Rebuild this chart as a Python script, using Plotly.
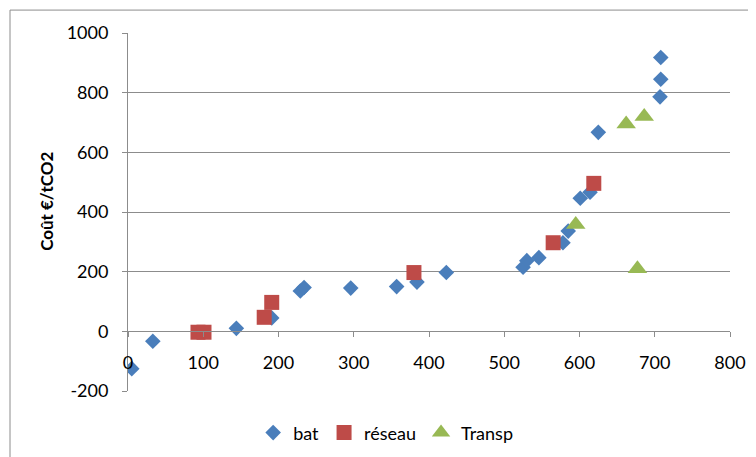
import plotly.graph_objects as go

# values
bat_x = [5, 33, 144, 191, 229, 234, 296, 357, 384, 423, 525, 530, 546, 578, 585, 601, 614, 625, 707, 708, 708]
bat_y = [-125, -33, 10, 45, 135, 147, 145, 150, 165, 197, 215, 237, 247, 297, 336, 446, 466, 667, 786, 845, 918]

reseau_x = [93, 101, 181, 191, 380, 565, 619]
reseau_y = [-3, -3, 47, 97, 197, 297, 496]

transp_x = [595, 662, 686, 677]
transp_y = [358, 695, 720, 210]

x_ticks = [0, 100, 200, 300, 400, 500, 600, 700, 800]
y_ticks = [-200, 0, 200, 400, 600, 800, 1000]
y_tick_labels = ["-200", "0", "200", "400", "600", "800", "1000"]

font_family = "Lato, 'Open Sans', sans-serif"
grid_color = "#8c8c8c"

fig = go.Figure()

fig.add_trace(
    go.Scatter(
        x=bat_x,
        y=bat_y,
        name="bat",
        mode="markers",
        marker={"symbol": "diamond", "size": 12, "color": "#4a7ebb"},
    )
)
fig.add_trace(
    go.Scatter(
        x=reseau_x,
        y=reseau_y,
        name="réseau",
        mode="markers",
        marker={"symbol": "square", "size": 15, "color": "#be4b48"},
    )
)
fig.add_trace(
    go.Scatter(
        x=transp_x,
        y=transp_y,
        name="Transp",
        mode="markers",
        marker={"symbol": "triangle-up", "size": 17, "color": "#98b954"},
    )
)

fig.update_xaxes(
    range=[0, 800],
    tickvals=x_ticks,
    showgrid=False,
    zeroline=False,
    showline=True,
    linecolor=grid_color,
    linewidth=1,
    ticks="outside",
    ticklen=5,
    tickcolor=grid_color,
    anchor="free",
    position=200 / 1200,
    ticklabelstandoff=10,
    tickfont={"size": 18, "color": "#000000", "family": font_family},
)
fig.update_yaxes(
    range=[-200, 1000],
    tickvals=y_ticks,
    ticktext=y_tick_labels,
    showgrid=True,
    gridcolor=grid_color,
    gridwidth=1,
    zeroline=False,
    showline=True,
    linecolor=grid_color,
    linewidth=1,
    ticks="outside",
    ticklen=5,
    tickcolor=grid_color,
    ticklabelstandoff=10,
    tickfont={"size": 18, "color": "#000000", "family": font_family},
)

# y axis title, placed like the spreadsheet one
fig.add_annotation(
    text="<b>Coût €/tCO2</b>",
    textangle=-90,
    xref="paper",
    yref="paper",
    x=-0.1346,
    y=0.531,
    xanchor="center",
    yanchor="middle",
    showarrow=False,
    font={"size": 17, "color": "#000000", "family": font_family},
)

# chart border like the spreadsheet frame
fig.add_shape(
    type="rect",
    xref="paper",
    yref="paper",
    x0=-0.196,
    x1=1.08,
    y0=-0.25,
    y1=1.064,
    line={"color": "#8c8c8c", "width": 1},
    fillcolor="rgba(0,0,0,0)",
    layer="below",
)

fig.update_layout(
    width=756,
    height=457,
    margin={"l": 120, "r": 34, "t": 25, "b": 74},
    plot_bgcolor="#ffffff",
    paper_bgcolor="#ffffff",
    font={"family": font_family, "size": 18, "color": "#000000"},
    showlegend=True,
    legend={
        "orientation": "h",
        "x": 0.428,
        "xanchor": "center",
        "y": -0.117,
        "yanchor": "middle",
        "font": {"size": 18},
        "itemwidth": 30,
    },
)

fig.write_html("out.html")
